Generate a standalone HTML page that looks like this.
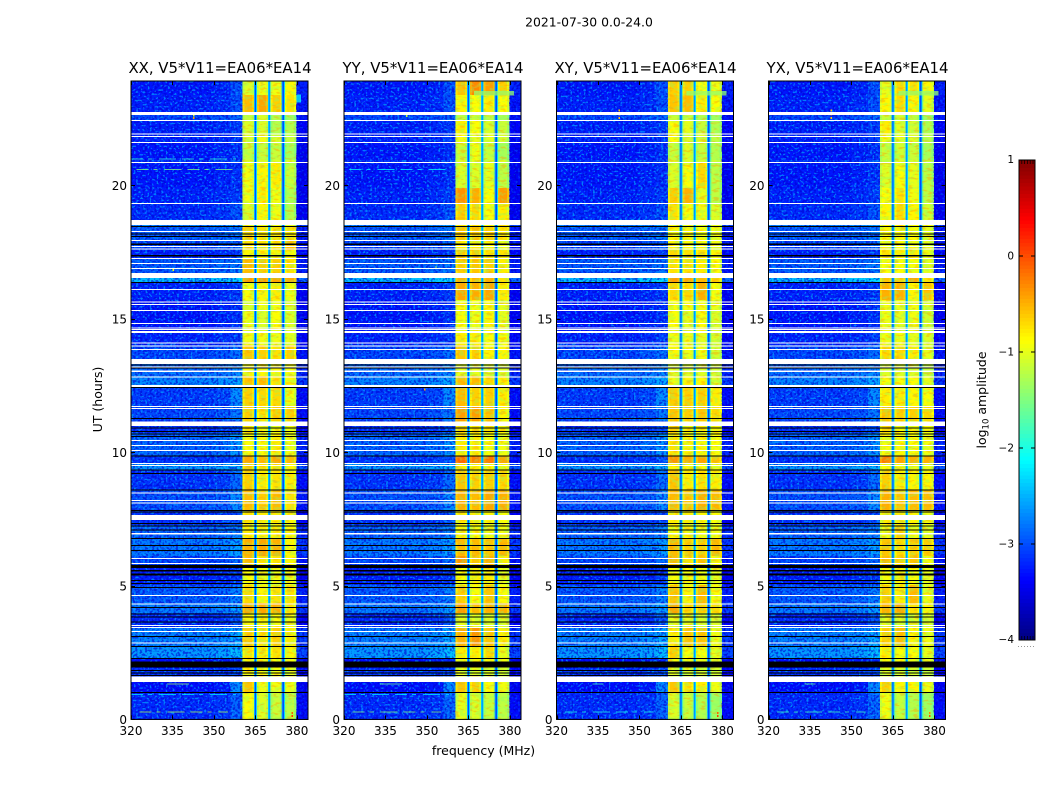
<!DOCTYPE html>
<html>
<head>
<meta charset="utf-8">
<title>2021-07-30 0.0-24.0</title>
<style>
html,body{margin:0;padding:0;background:#fff;}
svg{display:block;}
text{font-family:"DejaVu Sans","Liberation Sans",sans-serif;fill:#000;}
</style>
</head>
<body>
<svg id="figure" xmlns="http://www.w3.org/2000/svg" width="1050" height="800" viewBox="0 0 1050 800">
  <defs>
    <filter id="speckDark" x="0" y="0" width="100%" height="100%" color-interpolation-filters="sRGB">
      <feTurbulence type="fractalNoise" baseFrequency="0.42 0.46" numOctaves="1" seed="4"/>
      <feColorMatrix type="matrix" values="0 0 0 0 0  0 0 0 0 0  0 0 0 0 0.82  8 0 0 0 -3.8"/>
    </filter>
    <filter id="speckLight" x="0" y="0" width="100%" height="100%" color-interpolation-filters="sRGB">
      <feTurbulence type="fractalNoise" baseFrequency="0.44 0.48" numOctaves="1" seed="11"/>
      <feColorMatrix type="matrix" values="0 0 0 0 0  0 0 0 0 0.62  0 0 0 0 1  8 0 0 0 -4.5"/>
    </filter>
    <filter id="speckGreen" x="0" y="0" width="100%" height="100%" color-interpolation-filters="sRGB">
      <feTurbulence type="fractalNoise" baseFrequency="0.2 0.3" numOctaves="2" seed="7"/>
      <feColorMatrix type="matrix" values="0 0 0 0 0.5  0 0 0 0 1  0 0 0 0 0.45  7 0 0 0 -3.5"/>
    </filter>
    <filter id="speckOrange" x="0" y="0" width="100%" height="100%" color-interpolation-filters="sRGB">
      <feTurbulence type="fractalNoise" baseFrequency="0.15 0.4" numOctaves="2" seed="21"/>
      <feColorMatrix type="matrix" values="0 0 0 0 1  0 0 0 0 0.62  0 0 0 0 0  7 0 0 0 -3.8"/>
    </filter>
  </defs>
  <text x="589" y="26.5" font-size="12.4" text-anchor="middle">2021-07-30 0.0-24.0</text>
  <text x="483.5" y="755" font-size="12.5" text-anchor="middle">frequency (MHz)</text>
  <text x="0" y="0" font-size="12.5" text-anchor="middle" transform="translate(102,399.5) rotate(-90)">UT (hours)</text>
  <text x="0" y="0" font-size="12.5" text-anchor="middle" transform="translate(986,400) rotate(-90)">log<tspan font-size="8.5" dy="2.5">10</tspan><tspan dy="-2.5"> amplitude</tspan></text>
  <g id="panels"></g>
  <g id="colorbar"></g>
</svg>
<script>
// ---- Data ----
const panelTitles = ['XX, V5*V11=EA06*EA14','YY, V5*V11=EA06*EA14','XY, V5*V11=EA06*EA14','YX, V5*V11=EA06*EA14'];
const freqTicks = [320,335,350,365,380];
const utTicks = [0,5,10,15,20];
const colorbarTicks = [1,0,-1,-2,-3,-4];

// UT hour edges of the time segments (top to bottom)
const utEdges = [24.0,23.48,22.84,22.50,22.01,21.71,21.03,20.92,19.98,19.38,18.78,18.52,18.03,17.65,17.35,16.79,16.45,15.77,15.32,14.53,14.08,13.36,12.91,12.54,11.79,11.22,10.77,9.91,9.64,9.38,8.63,7.84,7.31,6.82,6.15,5.81,5.06,4.38,4.0,3.44,2.76,2.31,1.94,1.41,1.0,0];

// log10 amplitude of the off-band background per time segment
const bgLeft = [-3.15,-3.1,-2.9,-3.1,-3.1,-3.15,-3.0,-3.15,-3.1,-3.05,-2.6,-2.8,-2.9,-3.1,-2.8,-2.3,-3.1,-3.15,-3.15,-3.1,-2.9,-2.7,-2.6,-2.95,-2.9,-3.0,-2.75,-3.0,-2.5,-3.0,-2.85,-3.0,-2.75,-2.65,-2.9,-3.1,-2.8,-2.65,-3.05,-2.6,-2.5,-3.2,-3.0,-3.2,-3.05];
const bgMid = [-2.9,-2.9,-2.8,-3.0,-3.0,-3.05,-2.9,-3.05,-3.0,-2.9,-2.5,-2.7,-2.8,-3.0,-2.7,-2.2,-3.0,-3.05,-3.05,-3.0,-2.75,-2.6,-2.45,-2.6,-2.7,-2.9,-2.55,-2.9,-2.4,-2.75,-2.6,-2.9,-2.65,-2.5,-2.75,-3.0,-2.65,-2.5,-2.85,-2.45,-2.35,-3.1,-2.9,-2.6,-2.8];
const bgRight = [-3.0,-3.05,-3.05,-3.15,-3.1,-3.2,-3.1,-3.2,-3.2,-3.2,-2.8,-3.0,-3.05,-3.15,-3.0,-2.6,-3.2,-3.2,-3.2,-3.15,-3.05,-2.95,-2.85,-3.1,-3.1,-3.15,-2.95,-3.1,-2.75,-3.1,-3.05,-3.15,-2.95,-2.85,-3.05,-3.2,-3.0,-2.85,-3.15,-2.85,-2.8,-3.25,-3.15,-3.2,-3.1];

// log10 amplitude of the four bright sub-bands per time segment
const bandsXX = [[-1.0,-.9,-.9,-.8],[-.5,-.4,-.6,-.7],[-1.1,-1.0,-1.2,-1.3],[-1.0,-1.0,-1.2,-1.2],[-1.0,-.9,-1.0,-1.1],[-1.1,-1.1,-1.1,-1.25],[-1.0,-1.0,-1.0,-1.0],[-.9,-.8,-.75,-1.1],[-.9,-.75,-.9,-1.2],[-1.0,-.8,-.9,-1.2],[-.9,-.9,-.9,-.95],[-.6,-.7,-.7,-.7],[-.7,-.7,-.7,-.5],[-.8,-.8,-.8,-.8],[-.5,-.6,-.6,-.7],[-.35,-.35,-.4,-.4],[-.85,-.8,-.75,-.9],[-1.0,-.9,-.9,-1.0],[-.9,-1.0,-.85,-1.0],[-.9,-.9,-.9,-.95],[-.55,-.6,-.7,-.6],[-.8,-.8,-.8,-.85],[-.55,-.5,-.7,-.8],[-.6,-.65,-.65,-.9],[-.6,-.7,-.6,-.6],[-.7,-.9,-.9,-.9],[-.85,-.85,-.75,-.9],[-.4,-.5,-.4,-.5],[-.6,-.7,-.7,-.8],[-.6,-.75,-.7,-.75],[-.5,-.6,-.5,-.7],[-.7,-.75,-.75,-.8],[-.75,-.75,-.75,-.8],[-.45,-.4,-.45,-.8],[-.5,-.7,-.7,-.8],[-.85,-.9,-.9,-.9],[-.65,-.8,-.7,-.7],[-.4,-.4,-.45,-.7],[-.8,-.8,-.85,-.9],[-.6,-.7,-.6,-.75],[-.7,-.75,-.7,-.8],[-.8,-.85,-.85,-.9],[-.8,-.85,-.9,-.95],[-.55,-.9,-.9,-.9],[-.85,-1.0,-1.1,-1.15]];
const bandsYY = [[-.55,-.25,-.35,-.6],[-.8,-.85,-.75,-.85],[-1.15,-1.05,-1.15,-1.25],[-.75,-.85,-1.0,-1.1],[-.85,-.95,-.95,-1.05],[-1.05,-.9,-1.1,-1.25],[-1.0,-1.0,-1.0,-1.0],[-1.0,-1.0,-.95,-1.15],[-.3,-.45,-.85,-.35],[-.6,-.65,-.85,-.75],[-.7,-.7,-.8,-.85],[-.55,-.55,-.6,-.7],[-.75,-.75,-.8,-.9],[-.6,-.6,-.7,-.7],[-.6,-.55,-.6,-.75],[-.45,-.5,-.45,-.7],[-.4,-.45,-.4,-.75],[-.85,-.85,-.8,-.95],[-.85,-.9,-.8,-.95],[-.75,-.75,-.85,-.85],[-.55,-.6,-.8,-.8],[-.95,-.95,-1.0,-1.0],[-.5,-.5,-.65,-.75],[-.5,-.6,-.6,-.75],[-.35,-.35,-.55,-.8],[-.6,-.7,-.7,-.8],[-.75,-.75,-.85,-.9],[-.1,-.2,-.15,-.4],[-.75,-.75,-.8,-.85],[-.55,-.6,-.6,-.65],[-.45,-.5,-.4,-.45],[-.75,-.75,-.8,-.85],[-.8,-.85,-.9,-.9],[-.5,-.5,-.55,-.5],[-.3,-.55,-.45,-.75],[-.85,-.75,-.75,-.95],[-.6,-.85,-.55,-.85],[-.35,-.5,-.45,-.45],[-.95,-.95,-1.0,-1.0],[-.45,-.3,-.55,-.75],[-.75,-.75,-.65,-.95],[-.8,-.8,-.85,-.9],[-.95,-.95,-1.0,-1.05],[-.55,-.6,-.85,-.9],[-.95,-1.0,-1.1,-1.15]];
const bandsXY = [[-.6,-.6,-.85,-.9],[-.55,-.5,-.75,-.85],[-1.1,-1.1,-1.2,-1.3],[-.85,-.95,-1.1,-1.2],[-.85,-1.0,-1.0,-1.15],[-1.1,-1.0,-1.1,-1.2],[-1.0,-1.0,-1.05,-1.05],[-1.0,-.85,-.65,-1.15],[-.6,-.45,-.95,-1.15],[-.7,-.85,-.9,-1.0],[-.85,-.85,-.9,-.95],[-.8,-.8,-.85,-.9],[-.8,-.85,-.85,-.9],[-.65,-.7,-.7,-.8],[-.7,-.7,-.75,-.85],[-.35,-.4,-.5,-.6],[-.65,-.65,-.45,-.85],[-.85,-.85,-.9,-.95],[-.85,-.95,-.85,-1.0],[-.9,-.9,-.95,-1.0],[-.8,-.9,-.9,-1.05],[-1.0,-1.0,-1.0,-1.05],[-.9,-.8,-.8,-1.0],[-.6,-.6,-.6,-.75],[-.55,-.6,-.55,-.65],[-.6,-.8,-.75,-.8],[-.7,-.8,-.8,-.85],[-.3,-.45,-.4,-.55],[-.8,-.8,-.85,-.9],[-.55,-.75,-.7,-.75],[-.5,-.55,-.45,-.5],[-.75,-.75,-.8,-.85],[-.85,-.85,-.9,-.9],[-.5,-.6,-.6,-.5],[-.5,-.7,-.55,-.8],[-.85,-.85,-.9,-.95],[-.55,-.8,-.5,-.85],[-.4,-.65,-.6,-.65],[-.95,-.95,-1.0,-1.0],[-.75,-.55,-.55,-.9],[-.6,-.85,-.85,-.95],[-.85,-.85,-.9,-.95],[-1.0,-1.0,-1.05,-1.05],[-.55,-.7,-.75,-.9],[-1.0,-1.1,-1.2,-1.3]];
const bandsYX = [[-.95,-.65,-.7,-.8],[-.8,-.65,-.8,-.95],[-1.1,-1.05,-1.15,-1.3],[-.75,-.95,-1.05,-1.2],[-.9,-.95,-1.0,-1.15],[-1.1,-1.05,-1.1,-1.25],[-1.05,-1.0,-1.05,-1.1],[-1.0,-.85,-.95,-1.15],[-.85,-.7,-.9,-1.15],[-.8,-.65,-.8,-1.05],[-.75,-.75,-.8,-.85],[-.8,-.8,-.85,-.95],[-.85,-.85,-.9,-.95],[-.7,-.75,-.75,-.9],[-.85,-.85,-.85,-.95],[-.55,-.6,-.4,-.7],[-.45,-.45,-.8,-.55],[-.9,-.9,-.9,-1.0],[-.9,-.95,-.9,-1.05],[-.9,-.9,-.95,-1.0],[-.65,-.65,-.75,-.95],[-1.0,-1.0,-1.0,-1.1],[-.85,-.85,-.85,-.95],[-.75,-.75,-.8,-.85],[-.55,-.6,-.6,-.65],[-.65,-.85,-.85,-.85],[-.85,-.8,-.85,-.9],[-.2,-.4,-.45,-.45],[-.85,-.85,-.9,-.95],[-.6,-.75,-.8,-.8],[-.45,-.55,-.5,-.5],[-.75,-.75,-.8,-.9],[-.9,-.6,-.9,-.95],[-.55,-.65,-.6,-.6],[-.5,-.6,-.55,-.85],[-.85,-.8,-.85,-.95],[-.6,-.75,-.5,-.9],[-.45,-.4,-.7,-.8],[-.95,-.95,-1.0,-1.0],[-.6,-.5,-.8,-.9],[-.75,-.85,-.85,-.95],[-.85,-.85,-.9,-.95],[-1.0,-1.0,-1.05,-1.1],[-.6,-.8,-.8,-.9],[-.9,-1.1,-1.2,-1.3]];
const panelBands = [bandsXX,bandsYY,bandsXY,bandsYX];

// frequency layout of the columns in a panel (MHz)
const binEdges = [320,350,356,360.3, 361,363.8,364.4, 364.8,365.2,365.6, 366.2,368.9,369.5, 369.85,370.15,370.5, 371.1,373.9,374.5, 374.85,375.25,375.6, 376.2,379,379.8, 384];
const binRole = ['L','L','M', 'B0','B0','B0', 'G','G','G', 'B1','B1','B1', 'G','G','G', 'B2','B2','B2', 'G','G','G', 'B3','B3','B3', 'R'];
const binOffset = [-.12,-.06,-.08, -.2,-.04,-.16, -2.5,-3.0,-2.3, -.2,-.04,-.16, -2.4,-2.9,-2.3, -.2,-.04,-.16, -2.5,-3.0,-2.3, -.2,-.04,-.22, -.22];
const bandSpans = [[360.3,364.4],[365.6,369.5],[370.5,374.5],[375.6,379.8]];

// flagged rows [start, end] in UT hours: white = no data, black = zero data
const whiteFlags = [[22.84,22.73],[22.54,22.50],[22.03,22.0],[21.94,21.91],[21.71,21.68],[20.96,20.93],[19.42,19.38],[18.78,18.59],[18.36,18.32],[18.03,17.99],[17.80,17.76],[17.71,17.67],[17.35,17.31],[17.16,17.12],[16.97,16.93],[16.79,16.60],[16.18,16.15],[15.71,15.68],[15.62,15.58],[15.39,15.36],[14.91,14.87],[14.74,14.70],[14.68,14.64],[14.60,14.53],[14.17,14.13],[14.06,14.02],[13.93,13.89],[13.55,13.36],[13.27,13.24],[13.11,13.06],[12.89,12.86],[12.58,12.55],[12.54,12.50],[11.79,11.75],[11.71,11.67],[11.20,11.03],[10.51,10.47],[10.32,10.28],[10.13,10.09],[9.64,9.60],[9.57,9.53],[8.53,8.49],[8.25,8.21],[8.16,8.12],[7.69,7.50],[7.00,6.96],[6.07,6.03],[5.88,5.85],[4.68,4.64],[4.35,4.32],[3.55,3.51],[3.47,3.43],[3.33,3.29],[2.89,2.85],[1.61,1.40]];
const blackFlags = [[18.55,18.52],[18.27,18.23],[18.18,18.14],[17.89,17.84],[17.46,17.41],[16.45,16.41],[13.34,13.31],[13.24,13.20],[12.50,12.47],[11.33,11.30],[10.98,10.93],[10.85,10.82],[10.75,10.72],[10.66,10.63],[9.93,9.88],[9.40,9.37],[9.27,9.24],[8.65,8.61],[7.88,7.84],[7.81,7.78],[7.39,7.36],[7.29,7.25],[7.14,7.10],[6.82,6.79],[6.56,6.52],[6.37,6.34],[5.81,5.70],[5.62,5.56],[5.48,5.41],[5.24,5.21],[5.13,5.10],[4.98,4.95],[4.23,4.19],[3.98,3.95],[3.86,3.83],[3.68,3.64],[3.14,3.10],[2.76,2.73],[2.31,2.27],[2.17,1.95],[1.86,1.83],[1.77,1.74],[1.67,1.63],[1.03,1.00]];

// narrow interference streaks: [panel, UT top, UT bottom, f start, f end, log10 amplitude]
const rfiLines = [
 [1,23.62,23.45,367,381.5,-1.4],[2,23.62,23.45,367,381.5,-1.4],[3,23.62,23.45,367,381.5,-1.4],[0,23.5,23.2,379.8,381.5,-2.1],
 [0,21.08,21.04,320,358,-1.9],[0,20.70,20.66,322,358,-1.5],[1,20.70,20.66,322,358,-2.1],
 [0,0.30,0.26,323,355,-1.3],[1,0.30,0.26,323,355,-1.5],[2,0.30,0.26,323,355,-2.0],[3,0.30,0.26,323,355,-1.8],
 [0,1.35,1.31,333,341,-1.4],[1,1.35,1.31,333,341,-1.6],[2,1.35,1.31,333,337,-1.8],[3,1.35,1.31,333,337,-1.6],
 [0,0.96,0.92,320,358,-2.2],[1,0.96,0.92,320,358,-2.2]
];
// isolated hot channels: [panel, frequency, UT, log10 amplitude]
const hotPixels = [
 [0,342.4,22.7,-1.1],[0,342.4,22.6,-.4],[1,342.4,22.68,-1.2],[2,342.4,22.9,-.6],[2,342.4,22.75,-.2],[2,342.4,22.6,-.6],[3,342.4,22.9,-.6],[3,342.4,22.75,-.2],[3,342.4,22.6,-.6],
 [0,378,0.25,-.1],[0,378,0.12,.1],[2,378,0.25,-.1],[2,378,0.12,.1],[3,378,0.25,-.3],[3,378,0.12,0],
 [0,335,16.9,-.9],[1,349,12.4,-.5],[1,353,17.0,-1.4]
];

// ---- Axis functions ----
const panelLefts = [131,344,556.5,768.5];
const panelW = 177, plotTop = 81, plotBottom = 719.4;
const fMin = 320, fMax = 384, pxPerHour = 26.7, utReadCorrection = 0.99625;
function xScale(p, f){ return panelLefts[p] + (f - fMin) / (fMax - fMin) * panelW; }
function yScale(h){ return plotBottom - h * pxPerHour; }
function rowY(h){ return yScale(h * utReadCorrection); }
function jet(v){
  const t = Math.max(0, Math.min(1, (v + 4) / 5));
  const c = x => Math.round(255 * Math.max(0, Math.min(1, 1.5 - Math.abs(4 * t - x))));
  return 'rgb(' + c(3) + ',' + c(2) + ',' + c(1) + ')';
}
const NS = 'http://www.w3.org/2000/svg';
function mk(parent, tag, attrs){
  const el = document.createElementNS(NS, tag);
  for (const k in attrs) el.setAttribute(k, attrs[k]);
  parent.appendChild(el);
  return el;
}
function cellLevel(p, seg, bin){
  const role = binRole[bin];
  if (role === 'L') return bgLeft[seg] + binOffset[bin];
  if (role === 'M') return bgMid[seg] + binOffset[bin];
  if (role === 'R') return bgRight[seg] + binOffset[bin];
  if (role === 'G') return binOffset[bin];
  return panelBands[p][seg][+role[1]] + binOffset[bin];
}

const panelsRoot = document.getElementById('panels');
panelTitles.forEach(function(title, p){
  const key = title.slice(0,2).toLowerCase();
  const g = mk(panelsRoot, 'g', {});
  
  

  const heat = mk(g, 'g', {'shape-rendering':'crispEdges'});
  
  
  for (let s = 0; s < utEdges.length - 1; s++){
    for (let b = 0; b < binRole.length; b++){
      const x0 = xScale(p, binEdges[b]), x1 = xScale(p, binEdges[b+1]);
      const y0 = rowY(utEdges[s]), y1 = rowY(utEdges[s+1]);
      const cell = mk(heat, 'rect', {x:x0, y:y0, width:x1-x0+0.4, height:y1-y0+0.4, fill:jet(cellLevel(p,s,b))});
      
      
    }
  }

  const bgX0 = xScale(p, fMin), bgX1 = xScale(p, 360.3), rX0 = xScale(p, 379.8), rX1 = xScale(p, fMax);
  [[bgX0,bgX1,0.6,0.75],[rX0,rX1,0.8,0.3]].forEach(function(span){
    const dark = mk(g, 'rect', {x:span[0], y:plotTop, width:span[1]-span[0], height:plotBottom-plotTop, filter:'url(#speckDark)', opacity:span[2]});
    
    
    const light = mk(g, 'rect', {x:span[0], y:plotTop, width:span[1]-span[0], height:plotBottom-plotTop, filter:'url(#speckLight)', opacity:span[3]});
    
    
  });
  bandSpans.forEach(function(sp){
    const x0 = xScale(p, sp[0]), w = xScale(p, sp[1]) - x0;
    const green = mk(g, 'rect', {x:x0, y:plotTop, width:w, height:plotBottom-plotTop, filter:'url(#speckGreen)', opacity:0.32});
    
    
    const orange = mk(g, 'rect', {x:x0, y:plotTop, width:w, height:plotBottom-plotTop, filter:'url(#speckOrange)', opacity:0.4});
    
    
  });

  rfiLines.filter(r => r[0] === p).forEach(function(r){
    const yMid = (rowY(r[1]) + rowY(r[2])) / 2, th = Math.max(1, rowY(r[2]) - rowY(r[1]));
    const longStreak = r[4] - r[3] > 20;
    const line = mk(g, 'line', {x1:xScale(p,r[3]), x2:xScale(p,r[4]), y1:yMid, y2:yMid, stroke:jet(r[5]), 'stroke-width':th, 'stroke-dasharray':longStreak ? '12 5 4 7 17 6' : 'none', 'stroke-opacity':0.75, 'shape-rendering':'crispEdges'});
    
    
  });
  hotPixels.filter(r => r[0] === p).forEach(function(r){
    const dot = mk(g, 'rect', {x:xScale(p,r[1]), y:rowY(r[2])-1, width:1.4, height:2, fill:jet(r[3]), 'shape-rendering':'crispEdges'});
    
    
  });

  const bx0 = xScale(p, fMin), bx1 = xScale(p, fMax);
  blackFlags.forEach(function(f){
    const row = mk(g, 'rect', {x:bx0, y:rowY(f[0]), width:bx1-bx0, height:Math.max(1,rowY(f[1])-rowY(f[0])), fill:'#000', 'shape-rendering':'crispEdges'});
    
    
  });
  whiteFlags.forEach(function(f){
    const row = mk(g, 'rect', {x:bx0, y:rowY(f[0]), width:bx1-bx0, height:Math.max(1,rowY(f[1])-rowY(f[0])), fill:'#fff', 'shape-rendering':'crispEdges'});
    
    
  });

  const frame = mk(g, 'rect', {x:bx0, y:plotTop, width:panelW, height:plotBottom-plotTop, fill:'none', stroke:'#000', 'stroke-width':1});
  
  

  freqTicks.forEach(function(f){
    const x = Math.round(xScale(p, f)) + 0.5;
    const t1 = mk(g, 'line', {x1:x, x2:x, y1:plotBottom, y2:plotBottom-4, stroke:'#000', 'stroke-width':1});
    
    
    const t2 = mk(g, 'line', {x1:x, x2:x, y1:plotTop, y2:plotTop+4, stroke:'#000', 'stroke-width':1});
    
    
    const lab = mk(g, 'text', {x:xScale(p, f), y:735, 'font-size':12, 'text-anchor':'middle'});
    lab.textContent = String(f);
    
    
  });
  utTicks.forEach(function(h){
    const y = Math.round(yScale(h)) + 0.5;
    const t1 = mk(g, 'line', {x1:bx0, x2:bx0+4, y1:y, y2:y, stroke:'#000', 'stroke-width':1});
    
    
    const t2 = mk(g, 'line', {x1:bx1, x2:bx1-4, y1:y, y2:y, stroke:'#000', 'stroke-width':1});
    
    
    const lab = mk(g, 'text', {x:bx0-4, y:yScale(h)+4.5, 'font-size':12, 'text-anchor':'end'});
    lab.textContent = String(h);
    
    
  });
  const ttl = mk(g, 'text', {x:bx0+panelW/2+0.5, y:73, 'font-size':14.9, 'text-anchor':'middle'});
  ttl.textContent = title;
  
  
});

// ---- Colorbar ----
const cbX = 1019, cbW = 16, cbTop = 160, cbBottom = 640;
function cbY(v){ return cbBottom - (v + 4) / 5 * (cbBottom - cbTop); }
const cb = document.getElementById('colorbar');
const cbSteps = 128;
for (let i = 0; i < cbSteps; i++){
  const v0 = -4 + 5 * i / cbSteps, v1 = -4 + 5 * (i + 1) / cbSteps;
  const seg = mk(cb, 'rect', {x:cbX, y:cbY(v1), width:cbW, height:cbY(v0)-cbY(v1)+0.4, fill:jet((v0+v1)/2), 'shape-rendering':'crispEdges'});
  
  
}
const cbFrame = mk(cb, 'rect', {x:cbX, y:cbTop, width:cbW, height:cbBottom-cbTop, fill:'none', stroke:'#000', 'stroke-width':1});


colorbarTicks.forEach(function(v){
  const y = cbY(v);
  const a = mk(cb, 'line', {x1:cbX, x2:cbX+4, y1:y, y2:y, stroke:'#000', 'stroke-width':1});
  
  
  const b = mk(cb, 'line', {x1:cbX+cbW, x2:cbX+cbW-4, y1:y, y2:y, stroke:'#000', 'stroke-width':1});
  
  
  const lab = mk(cb, 'text', {x:1014, y:y+(v===-4?3:(v===1?3:3.5)), 'font-size':10.5, 'text-anchor':'end'});
  lab.textContent = (v < 0 ? '\u2212' : '') + Math.abs(v);
  
  
});
for (let i = 1; i <= 5; i++){
  const x = cbX + i * 2.8;
  const top = mk(cb, 'line', {x1:x, x2:x, y1:cbTop, y2:cbTop+4, stroke:'#000', 'stroke-width':0.7});
  
  
  const bot = mk(cb, 'line', {x1:x, x2:x, y1:cbBottom, y2:cbBottom-4, stroke:'#000', 'stroke-width':0.7});
  
  
}
const dots = mk(cb, 'line', {x1:1018, x2:1035, y1:646.5, y2:646.5, stroke:'#999', 'stroke-width':1, 'stroke-dasharray':'1 2'});


</script>
</body>
</html>
